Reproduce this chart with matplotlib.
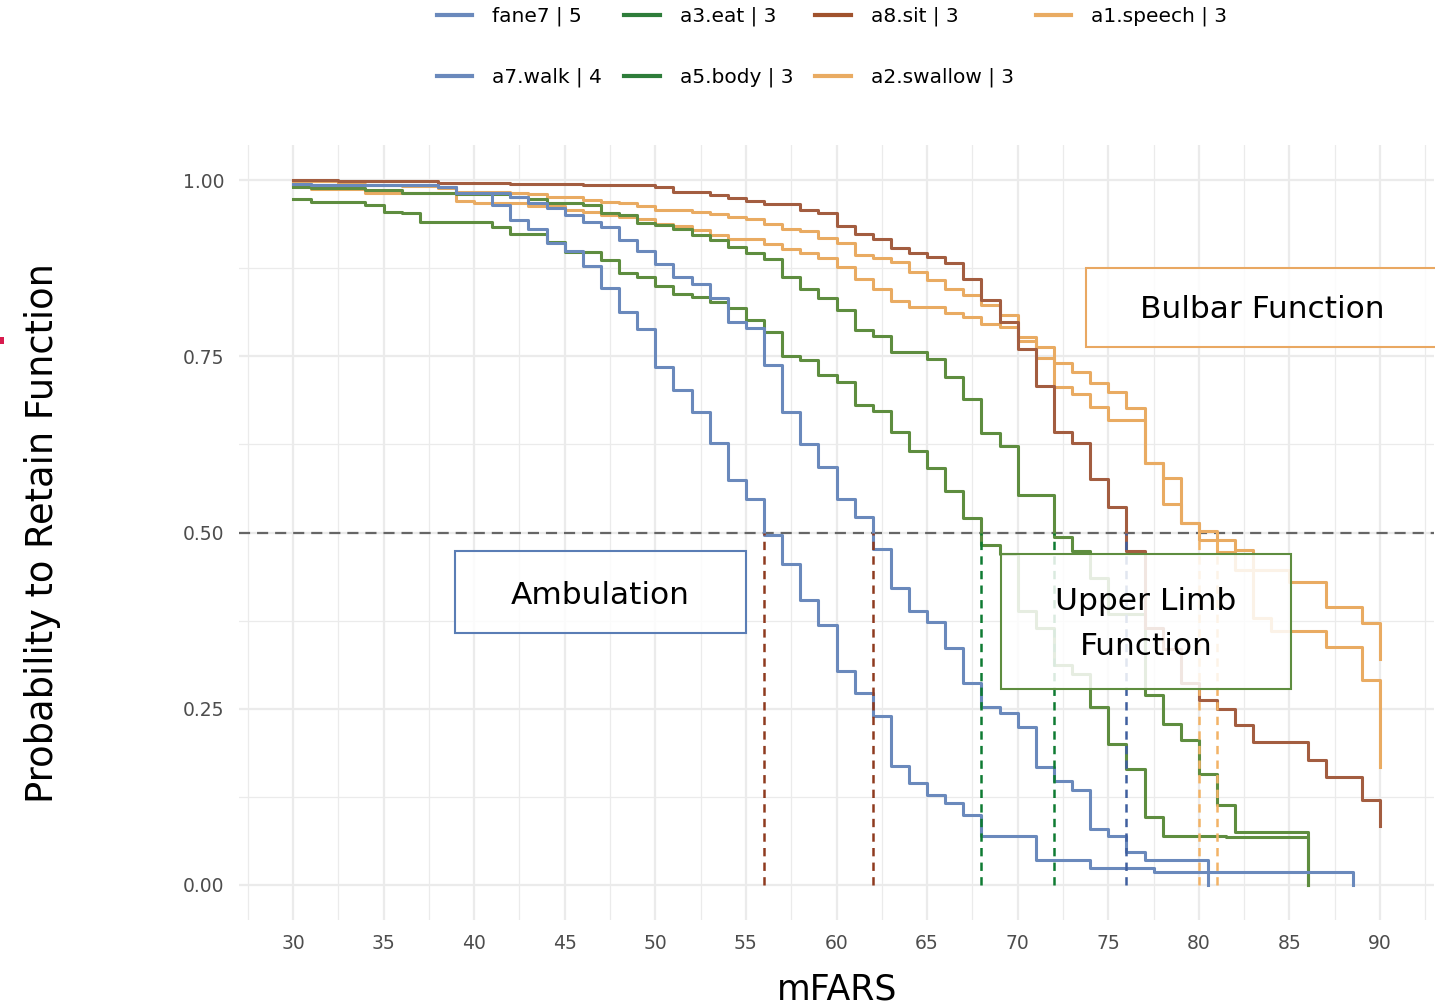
import matplotlib
matplotlib.use('Agg')
import matplotlib.pyplot as plt
from matplotlib.lines import Line2D
from matplotlib.patches import Rectangle

plt.rcParams['font.family'] = ['DejaVu Sans']
plt.rcParams['lines.scale_dashes'] = False

# ---------------- data ----------------
fane7_t = [30, 31, 38, 39, 41, 42, 43, 44, 45, 46, 47, 48, 49, 50, 51, 52, 53, 54, 55, 56,
           57, 58, 59, 60, 61, 62, 63, 64, 65, 66, 67, 68, 71, 74, 77.5, 88.5]
fane7_s = [0.995, 0.993, 0.990, 0.981, 0.965, 0.943, 0.930, 0.910, 0.899, 0.878, 0.847, 0.813,
           0.788, 0.735, 0.702, 0.671, 0.627, 0.574, 0.547, 0.497, 0.456, 0.404, 0.369, 0.303,
           0.273, 0.240, 0.169, 0.144, 0.128, 0.117, 0.099, 0.069, 0.036, 0.024, 0.019, 0.0]

walk_t = [30, 31, 38, 39, 42, 43, 44, 45, 46, 47, 48, 49, 50, 51, 52, 53, 54, 55, 56, 57, 58,
          59, 60, 61, 62, 63, 64, 65, 66, 67, 68, 69, 70, 71, 72, 73, 74, 75, 76, 77, 80.5]
walk_s = [0.995, 0.993, 0.990, 0.981, 0.976, 0.968, 0.960, 0.951, 0.941, 0.933, 0.915, 0.900,
          0.881, 0.862, 0.852, 0.833, 0.799, 0.790, 0.738, 0.671, 0.626, 0.593, 0.548, 0.522,
          0.476, 0.421, 0.388, 0.373, 0.336, 0.287, 0.252, 0.244, 0.224, 0.167, 0.147, 0.135,
          0.079, 0.069, 0.047, 0.036, 0.0]

eat_t = [30, 31, 34, 35, 36, 37, 41, 42, 44, 45, 47, 48, 49, 50, 51, 52, 53, 54, 55, 56, 57,
         58, 59, 60, 61, 62, 63, 64, 65, 66, 67, 68, 69, 70, 71, 72, 73, 74, 75, 76, 77, 78,
         81.5, 86]
eat_s = [0.9725, 0.969, 0.9645, 0.955, 0.9527, 0.941, 0.934, 0.924, 0.912, 0.898, 0.8865,
         0.8675, 0.863, 0.850, 0.839, 0.834, 0.827, 0.818, 0.801, 0.785, 0.751, 0.745, 0.724,
         0.714, 0.681, 0.672, 0.643, 0.615, 0.591, 0.559, 0.520, 0.482, 0.469, 0.388, 0.364,
         0.312, 0.300, 0.253, 0.200, 0.164, 0.097, 0.0695, 0.0676, 0.0]

body_t = [30, 31, 34, 36, 39, 42, 43, 44, 46, 47, 48, 49, 50, 51, 52, 53, 54, 55, 56, 57, 58,
          59, 60, 61, 62, 63, 65, 66, 67, 68, 69, 70, 72, 73, 74, 75, 77, 78, 79, 80, 81, 82, 86]
body_s = [0.990, 0.988, 0.986, 0.982, 0.980, 0.976, 0.9725, 0.968, 0.9645, 0.953, 0.950, 0.939,
          0.936, 0.930, 0.922, 0.915, 0.905, 0.896, 0.888, 0.862, 0.845, 0.833, 0.816, 0.787,
          0.779, 0.756, 0.746, 0.721, 0.689, 0.641, 0.623, 0.553, 0.494, 0.474, 0.435, 0.385,
          0.270, 0.229, 0.206, 0.157, 0.1135, 0.0756, 0.0]

sit_t = [30, 32.5, 38, 42, 46, 50, 51, 53, 54, 55, 56, 58, 59, 60, 61, 62, 63, 64, 65, 66, 67,
         68, 69, 70, 71, 72, 73, 74, 75, 76, 77, 78, 79, 80, 81, 82, 83, 86, 87, 89, 90]
sit_s = [0.9994, 0.998, 0.996, 0.994, 0.993, 0.9896, 0.983, 0.979, 0.975, 0.9707, 0.966,
         0.958, 0.953, 0.935, 0.924, 0.917, 0.904, 0.896, 0.891, 0.882, 0.860, 0.830, 0.799,
         0.760, 0.708, 0.643, 0.627, 0.576, 0.536, 0.474, 0.365, 0.335, 0.287, 0.262, 0.249,
         0.227, 0.203, 0.177, 0.1536, 0.121, 0.0837]

speech_t = [30, 32.5, 34, 36, 38, 39, 42, 43, 44, 46, 47, 48, 49, 50, 52, 53, 54, 55, 56, 57,
            58, 59, 60, 61, 62, 63, 64, 65, 66, 67, 68, 69, 70, 71, 72, 73, 74, 75, 76, 77, 78,
            79, 80, 81, 82, 83, 85, 87, 89, 90]
speech_s = [0.998, 0.995, 0.993, 0.9915, 0.988, 0.983, 0.982, 0.980, 0.976, 0.972, 0.969,
            0.967, 0.963, 0.958, 0.955, 0.952, 0.948, 0.945, 0.937, 0.930, 0.927, 0.918, 0.910,
            0.894, 0.889, 0.884, 0.869, 0.858, 0.846, 0.837, 0.823, 0.808, 0.777, 0.7635, 0.741,
            0.728, 0.7115, 0.700, 0.676, 0.598, 0.577, 0.513, 0.502, 0.489, 0.475, 0.447, 0.430,
            0.395, 0.371, 0.321]

swallow_t = [30, 31, 34, 39, 40, 43, 45, 46, 47, 48, 49, 50, 51, 52, 53, 54, 56, 57, 58, 59,
             60, 61, 62, 63, 64, 66, 67, 68, 69, 70, 71, 72, 73, 74, 75, 77, 78, 79, 80, 81, 82,
             83, 84, 87, 89, 90]
swallow_s = [0.993, 0.987, 0.981, 0.970, 0.967, 0.963, 0.958, 0.955, 0.950, 0.948, 0.944, 0.938,
             0.935, 0.929, 0.922, 0.917, 0.909, 0.902, 0.896, 0.889, 0.877, 0.859, 0.845, 0.828,
             0.820, 0.811, 0.806, 0.796, 0.792, 0.771, 0.747, 0.707, 0.697, 0.678, 0.660, 0.598,
             0.541, 0.513, 0.489, 0.473, 0.447, 0.379, 0.360, 0.338, 0.291, 0.168]

labels = ['fane7 | 5', 'a7.walk | 4', 'a3.eat | 3', 'a5.body | 3',
          'a8.sit | 3', 'a2.swallow | 3', 'a1.speech | 3']

medians = [56, 62, 68, 72, 76, 80, 81]
median_colors = ['#8E3A1F', '#8E3A1F', '#0E7B32', '#0E7B32', '#3F5F9F', '#F2B366', '#F2B366']

x_ticks = [30, 35, 40, 45, 50, 55, 60, 65, 70, 75, 80, 85, 90]
y_ticks = [0.0, 0.25, 0.5, 0.75, 1.0]
y_ticklabels = ['0.00', '0.25', '0.50', '0.75', '1.00']

BLUE = '#6A89BC'
GREEN = '#5E8D3F'
BROWN = '#A35D40'
ORANGE = '#E9AB62'

# ---------------- figure ----------------
W, H = 1435, 1008
fig = plt.figure(figsize=(W / 100, H / 100), dpi=100)
ax = fig.add_axes([238.6 / W, 87.75 / H, (1434.4 - 238.6) / W, (920.25 - 144.75) / H])
ax.set_xlim(27, 93)
ax.set_ylim(-0.05, 1.05)
for sp in ax.spines.values():
    sp.set_visible(False)

ax.set_xticks(x_ticks)
ax.set_xticklabels([str(v) for v in x_ticks])
ax.set_xticks([27.5 + 5 * i for i in range(14)], minor=True)
ax.set_yticks(y_ticks)
ax.set_yticklabels(y_ticklabels)
ax.set_yticks([0.125, 0.375, 0.625, 0.875], minor=True)
ax.grid(which='major', color='#EBEBEB', lw=1.6)
ax.grid(which='minor', color='#EBEBEB', lw=0.9)
ax.set_axisbelow(True)
ax.tick_params(which='both', length=0)
ax.tick_params(axis='both', labelsize=13.5, labelcolor='#4D4D4D')
ax.tick_params(axis='x', pad=10)
ax.tick_params(axis='y', pad=10)

# horizontal 0.5 reference line
ax.axhline(0.5, color='#666666', lw=1.6, dashes=(8, 5), zorder=1.5)

# curves (drawing order like ggplot factor order)
curves = [
    (speech_t, speech_s, ORANGE),
    (swallow_t, swallow_s, ORANGE),
    (eat_t, eat_s, GREEN),
    (body_t, body_s, GREEN),
    (walk_t, walk_s, BLUE),
    (sit_t, sit_s, BROWN),
    (fane7_t, fane7_s, BLUE),
]
for t, s, c in curves:
    ax.step(t, s, where='post', color=c, lw=2.2, zorder=2)

# median dashed lines
for m, c in zip(medians, median_colors):
    ax.plot([m, m], [0, 0.5], color=c, lw=1.8, dashes=(6, 4.5), zorder=3)

# annotation boxes
boxes = [
    (38.94, 0.357, 55.0 - 38.94, 0.474 - 0.357, '#5A7DB5', 'Ambulation', 46.95, 0.410),
    (73.77, 0.763, 93.2 - 73.77, 0.875 - 0.763, '#E9A862', 'Bulbar Function', 83.49, 0.816),
    (69.08, 0.278, 85.09 - 69.08, 0.4695 - 0.278, '#5E8D3F', 'Upper Limb\nFunction', 77.08, 0.370),
]
for x0, y0, w, h, ec, txt, tx, ty in boxes:
    ax.add_patch(Rectangle((x0, y0), w, h, facecolor=(1, 1, 1, 0.85), edgecolor=ec,
                           lw=1.5, zorder=5, clip_on=False))
    ax.text(tx, ty, txt, ha='center', va='center', fontsize=22.5, color='black',
            zorder=6, linespacing=1.7)

# axis titles
fig.text(43 / W, 1 - 533.5 / H, 'Probability to Retain Function', rotation=90,
         ha='center', va='center', fontsize=26.5, color='black')
fig.text(837 / W, 1 - 999 / H, 'mFARS', ha='center', va='baseline', fontsize=25,
         color='black')

# legend
leg_colors = [BLUE, BLUE, '#2E7D3A', '#2E7D3A', '#A0522D', ORANGE, ORANGE]
handles = [Line2D([], [], color=c, lw=3) for c in leg_colors]
fig.legend(handles, labels, ncol=4, loc='upper left',
           bbox_to_anchor=(437 / W, 1 - 7 / H), frameon=False, fontsize=14.5,
           handlelength=1.75, handletextpad=1.0, columnspacing=1.1, labelspacing=2.05,
           borderpad=0, borderaxespad=0)

# small crimson mark at left edge
fig.patches.append(Rectangle((0, 1 - 344 / H), 4 / W, 7 / H, transform=fig.transFigure,
                             facecolor='#D81B4E', edgecolor='none'))

fig.savefig('out.png', dpi=100)
